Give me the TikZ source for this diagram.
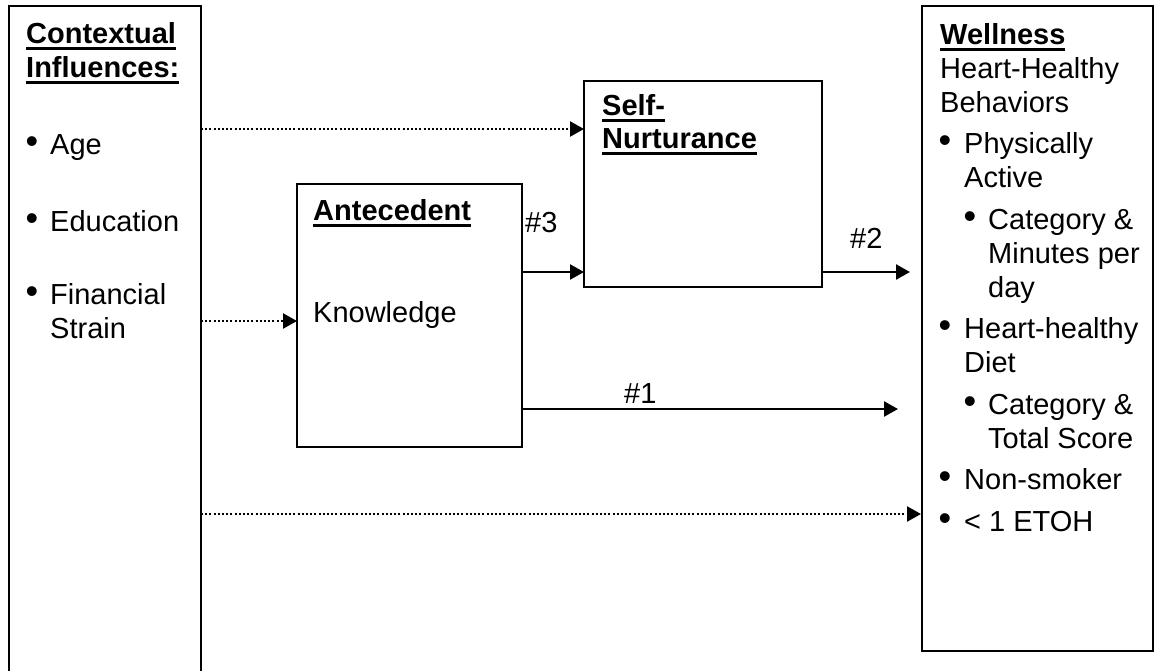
\documentclass[tikz,border=0pt]{standalone}
\usepackage{fontspec}
\setmainfont{Liberation Sans}
\usetikzlibrary{arrows.meta,calc}

% bold heading with a thick underline
\newcommand{\ulhead}[1]{\setbox0=\hbox{\bfseries #1}\rlap{\rule[-6.5pt]{\wd0}{3pt}}\box0}

\begin{document}
\begin{tikzpicture}[x=1pt,y=-1pt,
  box/.style={draw, line width=2.8pt, anchor=north west, outer sep=0pt, inner sep=0pt},
  txt/.style={anchor=base west, inner sep=0pt, font=\fontsize{29}{34}\selectfont},
  bul/.style={anchor=base, inner sep=0pt, font=\fontsize{36}{36}\selectfont},
  solidarrow/.style={line width=2.3pt, -{Triangle[length=14pt,width=15pt]}},
  dotarrow/.style={line width=2.3pt, dash pattern=on 2pt off 2.2pt, -{Triangle[length=14pt,width=15pt]}}]
  \useasboundingbox (0,0) rectangle (1156,670);

  % The four boxes
  \node[box, minimum width=192pt, minimum height=700pt] (ctx) at (9,6) {};
  \node[box, minimum width=231pt, minimum height=645pt] (well) at (922,6) {};
  \node[box, minimum width=238pt, minimum height=206pt] (self) at (584,81) {};
  \node[box, minimum width=225pt, minimum height=263pt] (ante) at (297,184) {};

  % Contextual influences
  \node[txt] (ctxh1) at (26,43) {\ulhead{Contextual}};
  \node[txt] (ctxh2) at (26,77) {\ulhead{Influences:}};
  \foreach \t/\y [count=\i] in {Age/154, Education/231, Financial/304} {
    \node[bul] (ctxb\i) at (32,\y) {\raisebox{1pt}{•}};
    \node[txt] (ctxi\i) at (50,\y) {\t};
  }
  \node[txt] (ctxi4) at (50,338) {Strain};

  % Antecedent and self-nurturance
  \node[txt] (anteh) at (313,220) {\ulhead{Antecedent}};
  \node[txt] (know) at (313,322) {Knowledge};
  \node[txt] (selfh1) at (602,115) {\ulhead{Self-}};
  \node[txt] (selfh2) at (602,148) {\ulhead{Nurturance}};

  % Wellness (lines of text, then the bullets)
  \node[txt] (wellh) at (940,44) {\ulhead{Wellness}};
  \foreach \t/\x/\y [count=\i] in {Heart-Healthy/940/78, Behaviors/940/112,
      Physically/964/153.5, Active/964/187.5,
      Category \&/988/229, Minutes per/988/263, day/988/297,
      Heart-healthy/964/338.5, Diet/964/372.5,
      Category \&/988/414, Total Score/988/448,
      Non-smoker/964/489.5, < 1 ETOH/964/531} {
    \node[txt] (wl\i) at (\x,\y) {\t};
  }
  \foreach \x/\y [count=\i] in {945/153.5, 970/229, 945/338.5, 970/414, 945/489.5, 945/531} {
    \node[bul] (wb\i) at (\x,\y) {\raisebox{1pt}{•}};
  }

  % Path labels
  \node[txt] (p3) at (525,232) {\#3};
  \node[txt] (p2) at (850,248) {\#2};
  \node[txt] (p1) at (624,403) {\#1};

  % Arrow heights and free ends
  \coordinate (ytop) at (0,129);
  \coordinate (yfin) at (0,321);
  \coordinate (ymid) at (0,272);
  \coordinate (ylow) at (0,409);
  \coordinate (ybot) at (0,514);
  \coordinate (tip2) at (910,272);
  \coordinate (tip1) at (898,409);

  % Dotted arrows from the contextual influences
  \draw[dotarrow] (ctx.east |- ytop) -- (self.west |- ytop);
  \draw[dotarrow] (ctx.east |- yfin) -- (ante.west |- yfin);
  \draw[dotarrow, shorten >=1pt] (ctx.east |- ybot) -- (well.west |- ybot);

  % Solid arrows #1, #2, #3
  \draw[solidarrow] (ante.east |- ymid) -- (self.west |- ymid);
  \draw[solidarrow] (self.east |- ymid) -- (tip2);
  \draw[solidarrow] (ante.east |- ylow) -- (tip1);
\end{tikzpicture}
\end{document}
